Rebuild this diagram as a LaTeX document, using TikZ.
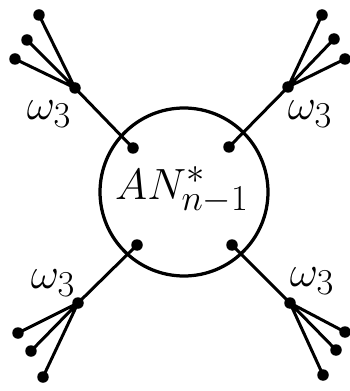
\documentclass[tikz,border=0pt]{standalone}
\usepackage{tikz}
\usetikzlibrary{positioning}
\tikzset{
  node-ring/.style={draw,circle,line width=0.065cm,minimum size=3.36cm,inner sep=0pt},
  node-dot/.style={circle,fill,inner sep=0pt,minimum size=0.23cm},
  node-label/.style={inner sep=0pt,font=\fontsize{30}{36}\selectfont},
  edge/.style={line width=0.06cm},
}
\begin{document}
\begin{tikzpicture}[x=0.02cm,y=-0.02cm]
  \useasboundingbox (0,0) rectangle (350,391);
  % ring and its label
  \node[node-ring] (ring) at (184,192) {};
  \node[node-label] (name) at (182,190) {$AN^*_{n-1}$};
  % inner dots
  \node[node-dot] (inUL) at (133,148) {};
  \node[node-dot] (inUR) at (229,147) {};
  \node[node-dot] (inLL) at (137,245) {};
  \node[node-dot] (inLR) at (232,245) {};
  % hubs
  \node[node-dot] (hubUL) at (75,88) {};
  \node[node-dot] (hubUR) at (288,87) {};
  \node[node-dot] (hubLL) at (78,303) {};
  \node[node-dot] (hubLR) at (290,303) {};
  % leaves
  \node[node-dot] (lfUL1) at (39,15) {};
  \node[node-dot] (lfUL2) at (27,40) {};
  \node[node-dot] (lfUL3) at (15,59) {};
  \node[node-dot] (lfUR1) at (322,15) {};
  \node[node-dot] (lfUR2) at (334,39) {};
  \node[node-dot] (lfUR3) at (345,59) {};
  \node[node-dot] (lfLL1) at (18,333) {};
  \node[node-dot] (lfLL2) at (31,351) {};
  \node[node-dot] (lfLL3) at (43,377) {};
  \node[node-dot] (lfLR1) at (345,332) {};
  \node[node-dot] (lfLR2) at (336,350) {};
  \node[node-dot] (lfLR3) at (323,375) {};
  % weights
  \node[node-label] (wUL) at (49,114) {$\omega_3$};
  \node[node-label] (wUR) at (310,114) {$\omega_3$};
  \node[node-label] (wLL) at (53,283) {$\omega_3$};
  \node[node-label] (wLR) at (312,281) {$\omega_3$};
  % edges
  \draw[edge] (inUL.center) -- (hubUL.center);
  \draw[edge] (inUR.center) -- (hubUR.center);
  \draw[edge] (inLL.center) -- (hubLL.center);
  \draw[edge] (inLR.center) -- (hubLR.center);
  \draw[edge] (hubUL.center) -- (lfUL1.center) (hubUL.center) -- (lfUL2.center) (hubUL.center) -- (lfUL3.center);
  \draw[edge] (hubUR.center) -- (lfUR1.center) (hubUR.center) -- (lfUR2.center) (hubUR.center) -- (lfUR3.center);
  \draw[edge] (hubLL.center) -- (lfLL1.center) (hubLL.center) -- (lfLL2.center) (hubLL.center) -- (lfLL3.center);
  \draw[edge] (hubLR.center) -- (lfLR1.center) (hubLR.center) -- (lfLR2.center) (hubLR.center) -- (lfLR3.center);
\end{tikzpicture}
\end{document}
